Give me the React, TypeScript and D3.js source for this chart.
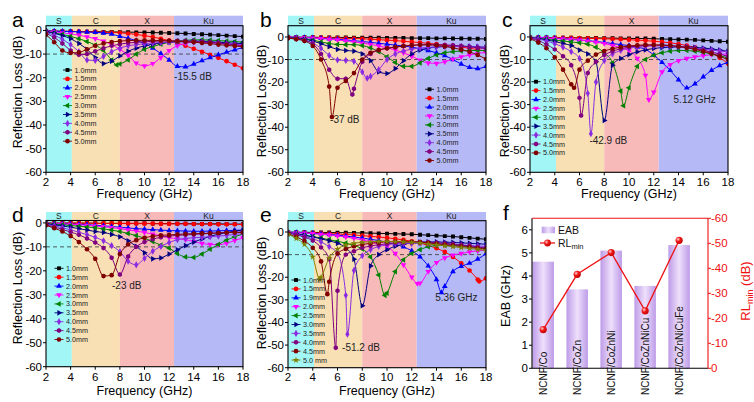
import * as d3 from 'd3';
import React from 'react';

const FONT = "'Liberation Sans', Arial, Helvetica, sans-serif";

// shared frequency grid (GHz)
const FREQ = [2, 2.67, 3.33, 4, 4.67, 5.33, 6, 6.67, 7.33, 8, 8.67, 9.33, 10, 10.67, 11.33, 12, 12.67, 13.33, 14, 14.67, 15.33, 16, 16.67, 17.33, 18];
const X_TICKS = [2, 4, 6, 8, 10, 12, 14, 16, 18];
const Y_TICKS = [0, -10, -20, -30, -40, -50, -60];

const BAND_NAMES = ['S', 'C', 'X', 'Ku'];
const BAND_EDGES = [2, 4.1, 8, 12.4, 18];
const BAND_COLORS = ['#a2f6f6', '#f8dfb4', '#f8b9b9', '#b5b9f5'];

const THICK = ['1.0mm', '1.5mm', '2.0mm', '2.5mm', '3.0mm', '3.5mm', '4.0mm', '4.5mm', '5.0mm'];
const THICK_E = ['1.0mm', '1.5mm', '1.9mm', '2.0mm', '2.5mm', '3.0mm', '3.5mm', '4.0mm', '4.5mm', '5.0 mm'];

type Dip = [number, number] | null;

// a: NCNF/Co
const RL_A = [
  [-0.3, -0.3, -0.4, -0.4, -0.5, -0.5, -0.5, -0.6, -0.6, -0.7, -0.7, -0.8, -0.8, -0.9, -1.0, -1.1, -1.2, -1.3, -1.5, -1.6, -1.8, -2.0, -2.2, -2.4, -2.6],
  [-0.2, -0.3, -0.3, -0.4, -0.5, -0.6, -0.7, -0.8, -0.9, -1.0, -1.3, -1.7, -2.2, -2.8, -3.5, -4.3, -5.3, -6.5, -7.8, -9.0, -10.3, -11.6, -13.0, -14.5, -16.0],
  [-0.2, -0.3, -0.4, -0.5, -0.6, -0.7, -0.8, -1.1, -1.6, -2.5, -3.3, -4.3, -5.5, -7.5, -9.8, -12.5, -15.2, -15.4, -14.2, -12.8, -11.5, -10.3, -9.2, -8.2, -7.2],
  [-0.3, -0.6, -1.0, -1.5, -2.0, -2.7, -3.5, -4.5, -6.0, -8.0, -10.5, -13.8, -15.0, -14.0, -11.5, -8.5, -6.5, -5.5, -5.0, -5.0, -5.2, -5.5, -5.8, -6.0, -6.2],
  [-0.5, -1.0, -1.7, -2.5, -3.5, -4.7, -6.2, -8.5, -12.5, -14.2, -12.5, -10.0, -8.0, -6.8, -5.8, -5.0, -4.5, -4.2, -4.0, -4.0, -4.1, -4.3, -4.5, -4.7, -5.0],
  [-0.5, -1.2, -2.2, -3.5, -5.5, -8.0, -11.5, -14.0, -13.0, -10.8, -8.8, -7.5, -6.5, -5.8, -5.3, -5.0, -4.8, -4.6, -4.5, -4.6, -4.8, -5.0, -5.2, -5.4, -5.6],
  [-0.8, -2.0, -3.8, -6.0, -9.0, -12.5, -12.7, -11.0, -9.0, -7.5, -6.5, -6.0, -5.6, -5.3, -5.1, -5.0, -4.9, -4.9, -4.9, -5.0, -5.2, -5.4, -5.7, -6.0, -6.3],
  [-1.2, -3.0, -5.5, -8.5, -10.3, -10.0, -8.8, -7.5, -6.5, -5.8, -5.3, -5.0, -4.8, -4.6, -4.5, -4.4, -4.4, -4.5, -4.6, -4.8, -5.0, -5.3, -5.7, -6.1, -6.5],
  [-1.8, -5.0, -8.5, -9.5, -9.3, -8.0, -6.5, -5.5, -4.9, -4.5, -4.3, -4.2, -4.2, -4.2, -4.3, -4.4, -4.6, -4.8, -5.0, -5.3, -5.6, -6.0, -6.3, -6.6, -6.9],
];
const DIP_A: Dip[] = [null, null, null, null, [7.75, -14.6], null, null, null, null];

// b: NCNF/CoZn
const RL_B = [
  [-0.1, -0.1, -0.1, -0.1, -0.2, -0.2, -0.2, -0.2, -0.3, -0.3, -0.3, -0.3, -0.4, -0.4, -0.4, -0.5, -0.5, -0.5, -0.6, -0.6, -0.7, -0.7, -0.8, -0.8, -0.9],
  [-0.1, -0.1, -0.2, -0.2, -0.3, -0.4, -0.5, -0.6, -0.7, -0.8, -1.0, -1.2, -1.4, -1.6, -1.9, -2.2, -2.5, -2.8, -3.2, -3.6, -4.0, -4.5, -5.0, -5.6, -6.3],
  [-0.1, -0.2, -0.3, -0.4, -0.6, -0.8, -1.0, -1.3, -1.6, -2.0, -2.4, -2.8, -3.2, -3.6, -4.0, -4.5, -5.2, -6.0, -7.0, -8.3, -10.0, -12.0, -13.5, -14.0, -13.0],
  [-0.1, -0.2, -0.3, -0.5, -0.7, -1.0, -1.3, -1.7, -2.2, -2.7, -3.3, -4.0, -4.8, -5.8, -7.0, -8.5, -10.3, -11.5, -11.7, -11.0, -9.8, -8.8, -8.0, -7.3, -6.8],
  [-0.2, -0.4, -0.8, -1.4, -2.2, -2.9, -3.3, -3.4, -3.4, -3.8, -4.8, -6.5, -8.8, -11.3, -13.0, -13.0, -11.5, -9.5, -8.0, -7.0, -6.5, -6.2, -6.0, -6.0, -6.0],
  [-0.2, -0.5, -1.0, -1.8, -3.0, -4.3, -5.5, -6.0, -6.3, -7.5, -10.5, -15.5, -16.2, -14.0, -10.5, -7.5, -5.8, -4.9, -4.4, -4.2, -4.1, -4.1, -4.2, -4.4, -4.6],
  [-0.3, -0.7, -1.4, -2.7, -5.0, -8.2, -10.2, -10.4, -10.8, -15.5, -17.5, -14.5, -10.0, -7.5, -6.2, -5.4, -4.9, -4.6, -4.4, -4.3, -4.2, -4.2, -4.3, -4.4, -4.5],
  [-0.3, -0.8, -1.5, -3.0, -7.5, -14.5, -18.5, -18.5, -23.0, -11.0, -7.5, -5.8, -5.0, -4.5, -4.0, -3.7, -3.5, -3.4, -3.4, -3.5, -3.7, -4.0, -4.4, -4.8, -5.2],
  [-0.5, -1.0, -1.8, -4.0, -10.0, -22.0, -22.5, -19.5, -16.0, -10.0, -7.0, -5.8, -5.0, -4.5, -4.0, -3.7, -3.5, -3.5, -3.7, -4.2, -4.8, -5.6, -6.6, -8.0, -9.8],
];
const DIP_B: Dip[] = [null, null, null, null, null, null, [8.4, -18.3], [7.2, -25.5], [5.55, -35.5]];

// c: NCNF/CoZnNi
const RL_C = [
  [-0.2, -0.2, -0.2, -0.3, -0.3, -0.3, -0.4, -0.4, -0.4, -0.5, -0.5, -0.6, -0.6, -0.7, -0.7, -0.8, -0.9, -1.0, -1.1, -1.2, -1.3, -1.5, -1.7, -1.9, -2.1],
  [-0.2, -0.2, -0.3, -0.3, -0.4, -0.4, -0.5, -0.6, -0.7, -0.8, -0.9, -1.0, -1.2, -1.4, -1.6, -1.9, -2.2, -2.6, -3.1, -3.8, -4.6, -5.7, -7.2, -9.2, -11.8],
  [-0.2, -0.3, -0.4, -0.6, -0.8, -1.0, -1.3, -1.6, -2.0, -2.4, -2.9, -3.4, -3.8, -4.5, -5.5, -8.0, -11.3, -14.8, -19.0, -22.6, -20.8, -17.7, -14.8, -12.7, -11.2],
  [-0.2, -0.3, -0.5, -0.7, -0.9, -1.1, -1.4, -1.8, -2.3, -2.9, -3.7, -4.8, -6.0, -9.5, -17.0, -24.5, -15.5, -12.3, -10.5, -9.5, -8.8, -8.3, -7.8, -7.6, -7.6],
  [-0.3, -0.6, -1.0, -1.4, -1.8, -2.2, -2.6, -3.2, -4.5, -7.0, -11.5, -24.0, -22.5, -13.0, -10.0, -8.1, -7.0, -6.3, -6.0, -6.0, -6.3, -6.8, -7.5, -8.3, -9.3],
  [-0.3, -0.7, -1.3, -2.0, -2.9, -3.8, -5.8, -7.5, -11.0, -37.0, -12.5, -9.5, -7.8, -6.6, -5.7, -5.1, -4.7, -4.5, -4.4, -4.4, -4.6, -4.9, -5.3, -5.8, -6.4],
  [-0.4, -1.0, -1.8, -3.0, -4.5, -6.5, -9.5, -25.0, -20.0, -10.5, -7.5, -6.0, -5.0, -4.5, -4.2, -4.0, -4.0, -4.1, -4.3, -4.6, -5.0, -5.4, -5.8, -6.2, -6.6],
  [-0.6, -1.6, -3.3, -5.5, -8.5, -12.5, -27.0, -16.0, -11.0, -8.0, -6.3, -5.2, -4.5, -4.0, -3.7, -3.6, -3.6, -3.8, -4.1, -4.6, -5.2, -5.9, -6.7, -7.6, -8.6],
  [-0.8, -2.5, -5.0, -9.0, -14.5, -21.0, -14.5, -10.5, -7.8, -6.2, -5.2, -4.5, -4.0, -3.7, -3.5, -3.5, -3.6, -3.8, -4.2, -4.8, -5.5, -6.4, -7.4, -8.6, -10.0],
];
const DIP_C: Dip[] = [null, null, null, [11.6, -27.8], [9.56, -30.5], null, [6.92, -42.9], [6.13, -34.8], [5.56, -22.5]];

// d: NCNF/CoZnNiCu
const RL_D = [
  [-0.1, -0.1, -0.1, -0.1, -0.1, -0.1, -0.1, -0.2, -0.2, -0.2, -0.2, -0.2, -0.2, -0.3, -0.3, -0.3, -0.3, -0.3, -0.4, -0.4, -0.4, -0.4, -0.5, -0.5, -0.5],
  [-0.1, -0.1, -0.1, -0.1, -0.1, -0.1, -0.2, -0.2, -0.2, -0.2, -0.3, -0.3, -0.3, -0.3, -0.4, -0.4, -0.4, -0.4, -0.5, -0.5, -0.5, -0.6, -0.6, -0.6, -0.7],
  [-0.2, -0.3, -0.4, -0.5, -0.6, -0.7, -1.0, -1.2, -1.5, -1.8, -2.1, -2.4, -2.6, -2.8, -3.0, -3.2, -3.3, -3.4, -3.5, -3.5, -3.4, -3.3, -3.2, -3.1, -3.0],
  [-0.2, -0.3, -0.4, -0.6, -0.8, -1.0, -1.3, -1.6, -2.0, -2.4, -2.9, -3.4, -4.0, -4.7, -5.4, -6.2, -6.6, -7.0, -7.8, -8.6, -9.0, -9.1, -8.5, -7.3, -6.2],
  [-0.3, -0.5, -0.8, -1.1, -1.4, -1.7, -2.0, -2.5, -3.0, -3.6, -4.4, -5.3, -6.4, -7.8, -9.3, -10.5, -12.8, -14.2, -14.4, -13.0, -11.0, -9.0, -7.2, -5.8, -4.6],
  [-0.4, -0.8, -1.3, -1.8, -2.4, -3.0, -3.6, -4.0, -4.8, -5.8, -7.5, -9.8, -12.5, -15.0, -14.6, -13.0, -11.2, -9.5, -8.0, -6.7, -5.6, -4.7, -4.0, -3.4, -3.0],
  [-0.6, -1.2, -2.0, -2.9, -3.9, -4.9, -6.0, -7.5, -9.5, -12.0, -16.0, -17.5, -14.8, -11.8, -9.8, -8.2, -7.0, -6.5, -6.2, -6.0, -5.8, -5.5, -5.2, -4.8, -4.5],
  [-0.8, -1.7, -2.7, -3.8, -5.0, -6.5, -8.2, -10.5, -14.5, -21.5, -14.0, -10.0, -8.0, -6.8, -6.0, -5.5, -5.2, -5.0, -4.8, -4.6, -4.4, -4.2, -4.0, -3.9, -3.8],
  [-1.0, -2.2, -3.6, -5.5, -8.0, -11.0, -15.0, -22.2, -21.8, -13.0, -9.0, -7.2, -6.2, -5.6, -5.2, -5.0, -4.8, -4.6, -4.5, -4.4, -4.3, -4.2, -4.1, -4.0, -4.0],
];
const DIP_D: Dip[] = [null, null, null, null, null, null, null, null, null];

// e: NCNF/CoZnNiCuFe
const RL_E = [
  [-0.1, -0.1, -0.1, -0.2, -0.2, -0.2, -0.3, -0.3, -0.4, -0.4, -0.5, -0.6, -0.7, -0.8, -0.9, -1.0, -1.2, -1.4, -1.6, -1.8, -2.0, -2.3, -2.6, -2.9, -3.2],
  [-0.1, -0.2, -0.3, -0.4, -0.5, -0.7, -0.9, -1.1, -1.3, -1.6, -1.9, -2.2, -2.6, -3.0, -3.5, -4.1, -4.9, -5.9, -7.2, -8.8, -11.0, -13.8, -17.0, -21.0, -20.5],
  [-0.1, -0.2, -0.4, -0.6, -0.8, -1.1, -1.4, -1.8, -2.2, -2.7, -3.2, -3.8, -4.5, -5.4, -6.6, -8.3, -11.0, -15.0, -21.0, -24.0, -17.5, -15.2, -13.8, -12.0, -9.6],
  [-0.2, -0.3, -0.5, -0.7, -1.0, -1.3, -1.7, -2.2, -2.8, -3.5, -4.3, -5.3, -6.5, -9.5, -14.5, -20.0, -22.6, -17.5, -13.5, -11.5, -10.2, -9.5, -8.8, -8.3, -8.0],
  [-0.3, -0.8, -1.4, -2.0, -2.7, -3.4, -4.1, -4.9, -6.0, -7.5, -11.0, -19.0, -27.0, -17.5, -12.3, -9.5, -7.8, -6.5, -6.0, -5.8, -5.9, -6.2, -6.5, -6.8, -7.2],
  [-0.3, -0.8, -1.4, -2.2, -3.0, -3.9, -5.0, -7.0, -12.0, -32.6, -15.0, -10.0, -7.8, -6.3, -5.4, -4.8, -4.5, -4.4, -4.4, -4.5, -4.6, -4.8, -5.0, -5.2, -5.4],
  [-0.4, -1.0, -1.9, -3.0, -4.4, -6.5, -9.5, -28.0, -17.0, -10.5, -7.8, -6.4, -5.6, -5.2, -5.0, -5.0, -5.0, -5.1, -5.2, -5.4, -5.6, -5.8, -6.0, -6.2, -6.4],
  [-0.5, -1.3, -2.3, -3.8, -6.8, -12.0, -26.0, -10.0, -8.5, -7.0, -6.2, -5.6, -5.2, -4.8, -4.5, -4.4, -4.4, -4.5, -4.7, -5.0, -5.3, -5.7, -6.1, -6.6, -7.1],
  [-0.8, -2.2, -4.0, -7.0, -13.0, -22.0, -9.5, -7.5, -6.3, -5.5, -5.0, -4.6, -4.3, -4.2, -4.2, -4.3, -4.5, -4.8, -5.2, -5.6, -6.0, -6.4, -6.8, -7.2, -7.6],
  [-1.0, -2.8, -5.5, -11.0, -20.0, -11.5, -7.5, -5.8, -5.0, -4.5, -4.3, -4.2, -4.2, -4.3, -4.4, -4.6, -4.9, -5.3, -5.7, -6.1, -6.5, -6.9, -7.3, -7.7, -8.1],
];
const DIP_E: Dip[] = [null, [17.45, -21.8], [14.4, -26.8], [12.45, -22.8], [9.83, -28.0], null, [6.8, -45.2], [5.86, -51.2], [5.18, -27.5], [4.56, -20.8]];

// f: summary
const SAMPLES = ['NCNF/Co', 'NCNF/CoZn', 'NCNF/CoZnNi', 'NCNF/CoZnNiCu', 'NCNF/CoZnNiCuFe'];
const EAB = [4.62, 3.42, 5.1, 3.57, 5.34];
const RL_MIN = [-15.5, -37.6, -46.3, -23.0, -51.2];
const EAB_TICKS = [0, 1, 2, 3, 4, 5, 6];
const RLMIN_TICKS = [0, -10, -20, -30, -40, -50, -60];

interface MarkStyle {
  color: string;
  shape: string;
}

const MARKS: MarkStyle[] = [
  { color: '#000000', shape: 'square' },
  { color: '#ff0000', shape: 'circle' },
  { color: '#0000ff', shape: 'triUp' },
  { color: '#ff00ff', shape: 'triDown' },
  { color: '#008000', shape: 'triLeft' },
  { color: '#000080', shape: 'triRight' },
  { color: '#8a2be2', shape: 'diamond' },
  { color: '#800080', shape: 'hex' },
  { color: '#800000', shape: 'circle' },
];
const MARKS_E: MarkStyle[] = [
  MARKS[0], MARKS[1], MARKS[2], MARKS[3], MARKS[4], MARKS[5], MARKS[6], MARKS[7], MARKS[8],
  { color: '#808000', shape: 'star' },
];

const symbolHex: d3.SymbolType = {
  draw(ctx, size) {
    const r = Math.sqrt((2 * size) / (3 * Math.sqrt(3)));
    for (let k = 0; k < 6; k++) {
      const a = (Math.PI / 3) * k + Math.PI / 6;
      if (k === 0) ctx.moveTo(r * Math.cos(a), r * Math.sin(a));
      else ctx.lineTo(r * Math.cos(a), r * Math.sin(a));
    }
    ctx.closePath();
  },
};

function markPath(shape: string): string {
  switch (shape) {
    case 'square':
      return d3.symbol(d3.symbolSquare, 15)() || '';
    case 'circle':
      return d3.symbol(d3.symbolCircle, 17)() || '';
    case 'diamond':
      return d3.symbol(d3.symbolDiamond, 15)() || '';
    case 'hex':
      return d3.symbol(symbolHex, 16)() || '';
    case 'star':
      return d3.symbol(d3.symbolStar, 14)() || '';
    default:
      return d3.symbol(d3.symbolTriangle, 14)() || '';
  }
}

const ROT: Record<string, number> = { triDown: 180, triLeft: -90, triRight: 90 };

const Marker: React.FC<{ x: number; y: number; style: MarkStyle }> = ({ x, y, style }) => (
  <path
    d={markPath(style.shape)}
    transform={`translate(${x},${y}) rotate(${ROT[style.shape] || 0})`}
    fill={style.color}
  />
);

interface Note {
  text: string;
  f: number;
  rl: number;
}

interface PanelProps {
  id: string;
  letter: string;
  left: number;
  right: number;
  top: number;
  bottom: number;
  stripTop: number;
  yMax: number;
  series: number[][];
  dips: Dip[];
  labels: string[];
  marks: MarkStyle[];
  legendX: number;
  legendY: number;
  notes: Note[];
  letterX: number;
  letterY: number;
  yTitleX: number;
  yTitleY: number;
  xTickY: number;
  xTitleY: number;
}

const RLPanel: React.FC<PanelProps> = (p) => {
  const x = d3.scaleLinear().domain([2, 18]).range([p.left, p.right]);
  const y = d3.scaleLinear().domain([-60, p.yMax]).range([p.bottom, p.top]);
  const line = d3
    .line<[number, number]>()
    .x((d) => x(d[0]))
    .y((d) => y(d[1]))
    .curve(d3.curveMonotoneX);

  const seriesPts = p.series.map((vals, i) => {
    const pts: [number, number][] = FREQ.map((f, j) => [f, vals[j]]);
    const dip = p.dips[i];
    if (dip) {
      pts.push(dip);
      pts.sort((a, b) => a[0] - b[0]);
    }
    return pts;
  });

  const clipId = `clip-${p.id}`;

  return (
    <g>
      <defs>
        <clipPath id={clipId}>
          <rect x={p.left} y={p.top} width={p.right - p.left} height={p.bottom - p.top} />
        </clipPath>
      </defs>

      {BAND_NAMES.map((name, i) => (
        <g key={`band-${name}`}>
          <rect
            x={x(BAND_EDGES[i])}
            y={p.stripTop}
            width={x(BAND_EDGES[i + 1]) - x(BAND_EDGES[i])}
            height={p.top - p.stripTop}
            fill={BAND_COLORS[i]}
          />
          <rect
            x={x(BAND_EDGES[i])}
            y={p.top}
            width={x(BAND_EDGES[i + 1]) - x(BAND_EDGES[i])}
            height={p.bottom - p.top}
            fill={BAND_COLORS[i]}
          />
          <text
            x={(x(BAND_EDGES[i]) + x(BAND_EDGES[i + 1])) / 2}
            y={(p.stripTop + p.top) / 2}
            dy="0.35em"
            textAnchor="middle"
            fontSize={8.5}
            fill="#222"
          >
            {name}
          </text>
        </g>
      ))}

      <line x1={p.left} x2={p.right} y1={y(-10)} y2={y(-10)} stroke="#333" strokeWidth={0.8} strokeDasharray="4,3" />

      <g clipPath={`url(#${clipId})`}>
        {seriesPts.map((pts, i) => (
          <g key={`s-${p.id}-${i}`}>
            <path d={line(pts) || ''} fill="none" stroke={p.marks[i].color} strokeWidth={1} />
            {pts.map((d, j) => (
              <Marker key={j} x={x(d[0])} y={y(d[1])} style={p.marks[i]} />
            ))}
          </g>
        ))}
      </g>

      {p.labels.map((lab, i) => {
        const ly = p.legendY + i * 8.9;
        return (
          <g key={`lg-${lab}`}>
            <line x1={p.legendX - 4.5} x2={p.legendX + 4.5} y1={ly} y2={ly} stroke={p.marks[i].color} strokeWidth={0.9} />
            <Marker x={p.legendX} y={ly} style={p.marks[i]} />
            <text x={p.legendX + 7} y={ly} dy="0.35em" fontSize={7.2} fill="#222">
              {lab}
            </text>
          </g>
        );
      })}

      {p.notes.map((n) => (
        <text key={n.text} x={x(n.f)} y={y(n.rl)} dy="0.35em" fontSize={10} fill="#222">
          {n.text}
        </text>
      ))}

      <rect x={p.left} y={p.top} width={p.right - p.left} height={p.bottom - p.top} fill="none" stroke="#000" strokeWidth={1.1} />

      {X_TICKS.map((t) => (
        <g key={`xt-${t}`}>
          <line x1={x(t)} x2={x(t)} y1={p.bottom} y2={p.bottom + 3} stroke="#000" />
          <text x={x(t)} y={p.xTickY} textAnchor="middle" fontSize={11.5} fill="#000">
            {t}
          </text>
        </g>
      ))}
      {Y_TICKS.map((t) => (
        <g key={`yt-${t}`}>
          <line x1={p.left - 3} x2={p.left} y1={y(t)} y2={y(t)} stroke="#000" />
          <text x={p.left - 4} y={y(t)} dy="0.35em" textAnchor="end" fontSize={11.5} fill="#000">
            {t}
          </text>
        </g>
      ))}

      <text x={(p.left + p.right) / 2} y={p.xTitleY} textAnchor="middle" fontSize={12.5} fill="#000">
        Frequency (GHz)
      </text>
      <text
        transform={`translate(${p.yTitleX},${p.yTitleY}) rotate(-90)`}
        textAnchor="middle"
        dy="0.35em"
        fontSize={12.5}
        fill="#000"
      >
        Reflection Loss (dB)
      </text>
      <text x={p.letterX} y={p.letterY} fontSize={21} fill="#000">
        {p.letter}
      </text>
    </g>
  );
};

const PANELS: PanelProps[] = [
  {
    id: 'a', letter: 'a', left: 46, right: 243, top: 25.7, bottom: 172.3, stripTop: 15.7, yMax: 2,
    series: RL_A, dips: DIP_A, labels: THICK, marks: MARKS, legendX: 67.5, legendY: 70,
    notes: [{ text: '-15.5 dB', f: 12.4, rl: -19.5 }],
    letterX: 12, letterY: 27, yTitleX: 18, yTitleY: 92, xTickY: 185.5, xTitleY: 197.5,
  },
  {
    id: 'b', letter: 'b', left: 288, right: 486, top: 25.7, bottom: 172.3, stripTop: 15.7, yMax: 5,
    series: RL_B, dips: DIP_B, labels: THICK, marks: MARKS, legendX: 429.5, legendY: 89.3,
    notes: [{ text: '-37 dB', f: 5.4, rl: -36.8 }],
    letterX: 260, letterY: 27, yTitleX: 262, yTitleY: 101, xTickY: 185.5, xTitleY: 197.5,
  },
  {
    id: 'c', letter: 'c', left: 530, right: 728, top: 25.7, bottom: 172.3, stripTop: 15.7, yMax: 5,
    series: RL_C, dips: DIP_C, labels: THICK, marks: MARKS, legendX: 536, legendY: 81.7,
    notes: [
      { text: '5.12 GHz', f: 13.6, rl: -27.6 },
      { text: '-42.9 dB', f: 6.8, rl: -45.7 },
    ],
    letterX: 502, letterY: 27, yTitleX: 505, yTitleY: 101, xTickY: 185.5, xTitleY: 197.5,
  },
  {
    id: 'd', letter: 'd', left: 46, right: 243, top: 220.5, bottom: 366.7, stripTop: 212, yMax: 1,
    series: RL_D, dips: DIP_D, labels: THICK, marks: MARKS, legendX: 59, legendY: 268.3,
    notes: [{ text: '-23 dB', f: 7.36, rl: -26.2 }],
    letterX: 12, letterY: 222, yTitleX: 18, yTitleY: 288, xTickY: 381, xTitleY: 395,
  },
  {
    id: 'e', letter: 'e', left: 288, right: 486, top: 220.7, bottom: 367.7, stripTop: 212, yMax: 5,
    series: RL_E, dips: DIP_E, labels: THICK_E, marks: MARKS_E, legendX: 296, legendY: 280,
    notes: [
      { text: '5.36 GHz', f: 13.9, rl: -29.1 },
      { text: '-51.2 dB', f: 6.37, rl: -51.1 },
    ],
    letterX: 260, letterY: 222, yTitleX: 262, yTitleY: 293, xTickY: 381, xTitleY: 395,
  },
];

const SummaryPanel: React.FC = () => {
  const left = 532;
  const right = 708;
  const top = 218.3;
  const bottom = 368.3;
  const x = d3.scaleLinear().domain([-0.33, 4.85]).range([left, right]);
  const yL = d3.scaleLinear().domain([0, 6.5]).range([bottom, top]);
  const yR = d3.scaleLinear().domain([0, -60]).range([bottom, top]);
  const barW = 21.5;
  const rlLine = d3
    .line<number>()
    .x((_, i) => x(i))
    .y((d) => yR(d));

  return (
    <g>
      <defs>
        <linearGradient id="barGrad" x1="0" x2="1" y1="0" y2="0">
          <stop offset="0" stopColor="#bd9be8" />
          <stop offset="0.5" stopColor="#eee0fb" />
          <stop offset="1" stopColor="#bd9be8" />
        </linearGradient>
        <radialGradient id="ballGrad" cx="0.35" cy="0.35" r="0.7">
          <stop offset="0" stopColor="#ffd0d0" />
          <stop offset="0.45" stopColor="#f01818" />
          <stop offset="1" stopColor="#c00000" />
        </radialGradient>
      </defs>

      {EAB.map((v, i) => (
        <rect key={`bar-${i}`} x={x(i) - barW / 2} y={yL(v)} width={barW} height={bottom - yL(v)} fill="url(#barGrad)" />
      ))}

      <path d={rlLine(RL_MIN) || ''} fill="none" stroke="#ee1111" strokeWidth={1.3} />
      {RL_MIN.map((v, i) => (
        <circle key={`pt-${i}`} cx={x(i)} cy={yR(v)} r={3.6} fill="url(#ballGrad)" />
      ))}

      {SAMPLES.map((s, i) => (
        <text
          key={s}
          transform={`translate(${x(i)},395) rotate(-90)`}
          dy="0.35em"
          fontSize={10}
          fill="#111"
        >
          {s}
        </text>
      ))}

      <line x1={left} x2={left} y1={top} y2={bottom} stroke="#000" strokeWidth={1.1} />
      <line x1={left} x2={right} y1={bottom} y2={bottom} stroke="#000" strokeWidth={1.1} />
      <line x1={left} x2={right} y1={top} y2={top} stroke="#ee1111" strokeWidth={1.1} />
      <line x1={right} x2={right} y1={top} y2={bottom} stroke="#ee1111" strokeWidth={1.1} />

      {EAB_TICKS.map((t) => (
        <g key={`lt-${t}`}>
          <line x1={left - 3} x2={left} y1={yL(t)} y2={yL(t)} stroke="#000" />
          <text x={left - 4} y={yL(t)} dy="0.35em" textAnchor="end" fontSize={11.5} fill="#000">
            {t}
          </text>
        </g>
      ))}
      {RLMIN_TICKS.map((t) => (
        <g key={`rt-${t}`}>
          <line x1={right} x2={right + 3} y1={yR(t)} y2={yR(t)} stroke="#ee1111" />
          <text x={right + 3} y={yR(t)} dy="0.35em" fontSize={11.5} fill="#ee1111">
            {t}
          </text>
        </g>
      ))}

      <rect x={541.7} y={226.7} width={13.3} height={6.6} fill="url(#barGrad)" />
      <text x={558} y={230} dy="0.35em" fontSize={10.5} fill="#111">
        EAB
      </text>
      <line x1={540} x2={555} y1={243} y2={243} stroke="#ee1111" strokeWidth={1.3} />
      <circle cx={547.5} cy={243} r={3.4} fill="url(#ballGrad)" />
      <text x={558} y={243} dy="0.35em" fontSize={10.5} fill="#111">
        RL
        <tspan fontSize={7.5} dy={2.5}>
          min
        </tspan>
      </text>

      <text transform="translate(506,296) rotate(-90)" textAnchor="middle" dy="0.35em" fontSize={12.5} fill="#000">
        EAB (GHz)
      </text>
      <text transform="translate(745,291) rotate(-90)" textAnchor="middle" dy="0.35em" fontSize={13} fill="#ee1111">
        RL
        <tspan fontSize={9} dy={3}>
          min
        </tspan>
        <tspan dy={-3}> (dB)</tspan>
      </text>
      <text x={503} y={220} fontSize={21} fill="#000">
        f
      </text>
    </g>
  );
};

const App: React.FC = () => (
  <svg
    width={754}
    height={402}
    style={{ position: 'absolute', left: 0, top: 0, background: '#fff' }}
    fontFamily={FONT}
  >
    {PANELS.map((p) => (
      <RLPanel key={p.id} {...p} />
    ))}
    <SummaryPanel />
  </svg>
);

export default App;
